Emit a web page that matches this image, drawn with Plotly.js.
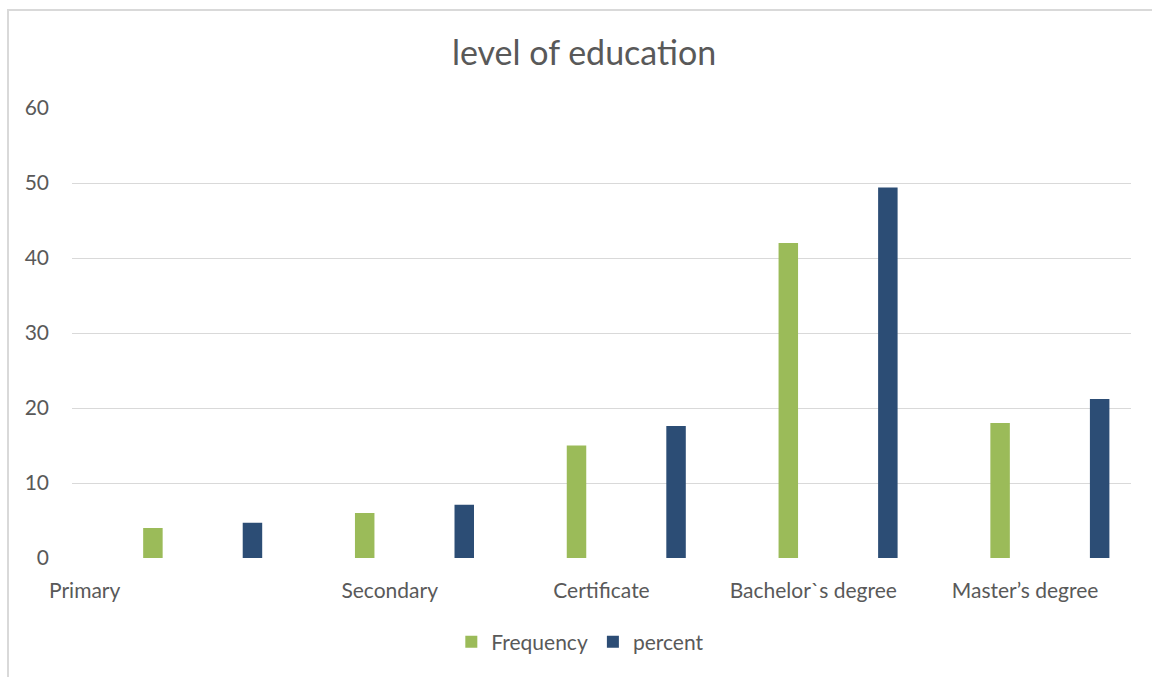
<!DOCTYPE html>
<html>
<head>
<meta charset="utf-8">
<script src="https://cdn.plot.ly/plotly-3.0.1.min.js"></script>
<style>
  html, body { margin: 0; padding: 0; background: #ffffff; }
  #wrap { position: relative; width: 1152px; height: 677px; overflow: hidden; }
  #chart { position: absolute; left: 0; top: 0; width: 1152px; height: 677px; }
  #frame { position: absolute; left: 7px; top: 9px; width: 1200px; height: 700px;
           border-left: 2px solid #d9d9d9; border-top: 2px solid #d9d9d9; pointer-events: none; }
</style>
</head>
<body>
<div id="wrap">
  <div id="chart"></div>
  <div id="frame"></div>
</div>
<script>
// Education levels of respondents: counts and share of total
const categories = ["Primary", "Secondary", "Certificate", "Bachelor`s degree", "Master\u2019s degree"];
const frequency = [4, 6, 15, 42, 18];
const percent = [4.7, 7.1, 17.6, 49.4, 21.2];
const yTicks = [0, 10, 20, 30, 40, 50, 60];

const idx = categories.map((_, i) => i);
// first label sits near the left edge of the axis
const labelPos = idx.map(i => (i === 0 ? -0.44 : i));

const font = "Lato, 'Open Sans', sans-serif";
const grey = "#595959";

const traces = [
  {
    type: "bar", name: "Frequency", x: idx, y: frequency,
    width: 0.092, offset: -0.164,
    marker: { color: "#9bbb59" }, hoverinfo: "y"
  },
  {
    type: "bar", name: "percent", x: idx, y: percent,
    width: 0.092, offset: 0.306,
    marker: { color: "#2c4d75" }, hoverinfo: "y"
  }
];

const layout = {
  width: 1152, height: 677,
  margin: { l: 72, r: 21, t: 108, b: 119 },
  paper_bgcolor: "rgba(0,0,0,0)", plot_bgcolor: "rgba(0,0,0,0)",
  barmode: "overlay",
  title: {
    text: "level of education",
    font: { family: font, size: 34, color: grey },
    x: 0.507, xanchor: "center", y: 0.922, yanchor: "middle"
  },
  xaxis: {
    range: [-0.5, 4.5], tickmode: "array", tickvals: labelPos, ticktext: categories,
    showgrid: false, zeroline: false, showline: false, ticks: "",
    tickfont: { family: font, size: 21, color: grey }, ticklabelstandoff: 18,
    fixedrange: true
  },
  yaxis: {
    range: [0, 60], tickmode: "array", tickvals: yTicks,
    showgrid: true, gridcolor: "#d9d9d9", gridwidth: 1,
    zeroline: false, showline: false, ticks: "",
    tickfont: { family: font, size: 21, color: grey }, ticklabelstandoff: 22,
    fixedrange: true
  },
  showlegend: true,
  legend: {
    orientation: "h", x: 0.48, xanchor: "center", y: -0.187, yanchor: "middle",
    font: { family: font, size: 21, color: grey }, itemwidth: 30,
    traceorder: "normal"
  }
};

Plotly.newPlot("chart", traces, layout, { displayModeBar: false, staticPlot: true });
</script>
</body>
</html>
